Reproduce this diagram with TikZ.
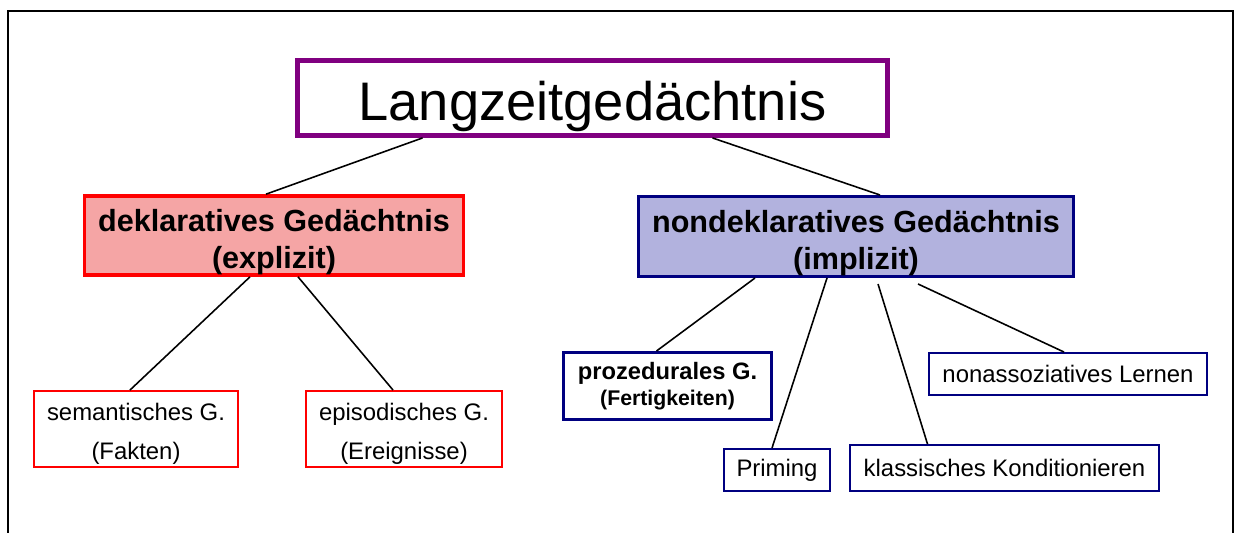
\documentclass[tikz,border=0pt]{standalone}
\usepackage{fontspec}
\setmainfont{Liberation Sans}
\usetikzlibrary{calc}
\definecolor{lzgpurple}{RGB}{128,0,128}
\definecolor{navy}{RGB}{0,0,128}
\definecolor{dekfill}{RGB}{245,165,165}
\definecolor{ndekfill}{RGB}{178,178,222}

\begin{document}
\begin{tikzpicture}[x=0.02cm,y=-0.02cm,
    box/.style={draw,rectangle,inner sep=0pt,align=center,text=black},
    topbox/.style={box,draw=lzgpurple,line width=2.8pt,font=\fontsize{30.9}{37}\selectfont},
    headbox/.style={box,line width=1.9pt,font=\bfseries\fontsize{17.4}{21}\selectfont},
    redbox/.style={box,draw=red,line width=1.1pt,font=\fontsize{13.6}{22.7}\selectfont},
    bluebox/.style={box,draw=navy,line width=1.1pt,font=\fontsize{13.6}{16}\selectfont},
    link/.style={line width=0.9pt}]
  \useasboundingbox (0,0) rectangle (1236,533);
  \draw[line width=1.1pt] (8,533) |- (1233,11) -- (1233,533);

  \node[topbox,minimum width=11.8cm,minimum height=1.5cm] (lzg) at (592.5,98)
    {\rule{0pt}{1.02em}Langzeitgedächtnis};

  \node[headbox,draw=red,fill=dekfill,minimum width=7.57cm,minimum height=1.55cm] (dekl) at (274,235.5)
    {\rule{0pt}{1.18em}deklaratives Gedächtnis\\(explizit)};
  \node[headbox,draw=navy,fill=ndekfill,line width=1.7pt,minimum width=8.7cm,minimum height=1.6cm] (ndekl) at (856,236.5)
    {\rule{0pt}{1.13em}nondeklaratives Gedächtnis\\(implizit)};

  \node[redbox,minimum width=4.08cm,minimum height=1.52cm] (sem) at (136,429)
    {\rule{0pt}{1.13em}semantisches G.\\(Fakten)};
  \node[redbox,minimum width=3.92cm,minimum height=1.52cm] (epi) at (404,429)
    {\rule{0pt}{1.13em}episodisches G.\\(Ereignisse)};

  \node[bluebox,line width=1.7pt,minimum width=4.16cm,minimum height=1.34cm,
        font=\bfseries\fontsize{13.5}{14.7}\selectfont] (proz) at (667.5,386)
    {prozedurales G.\\{\fontsize{12.1}{14.7}\selectfont(Fertigkeiten)}};
  \node[bluebox,minimum width=2.12cm,minimum height=0.84cm] (prim) at (777,470) {Priming};
  \node[bluebox,minimum width=6.18cm,minimum height=0.92cm] (klass) at (1004.5,468)
    {klassisches Konditionieren};
  \node[bluebox,minimum width=5.56cm,minimum height=0.84cm] (nonass) at (1068,374)
    {nonassoziatives Lernen};

  \draw[link] ($(lzg.south)+(-170,0)$) -- ($(dekl.north)+(-8,0)$);
  \draw[link] ($(lzg.south)+(120,0)$) -- ($(ndekl.north)+(24,0)$);
  \draw[link] ($(dekl.south)+(-24,0)$) -- ($(sem.north)+(-6,0)$);
  \draw[link] ($(dekl.south)+(24,0)$) -- ($(epi.north)+(-11,0)$);
  \draw[link] ($(ndekl.south)+(-101,0)$) -- ($(proz.north)+(-11,0)$);
  \draw[link] ($(ndekl.south)+(-29,0)$) -- ($(prim.north)+(-5,0)$);
  \draw[link] ($(ndekl.south)+(22,6)$) -- ($(klass.north)+(-77,0)$);
  \draw[link] ($(ndekl.south)+(62,6)$) -- ($(nonass.north)+(-4,0)$);
\end{tikzpicture}
\end{document}
